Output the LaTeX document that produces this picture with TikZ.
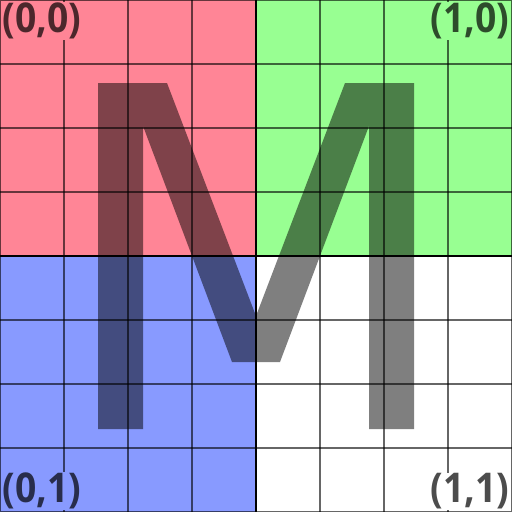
\documentclass[tikz,border=0pt]{standalone}
\usepackage{fontspec}
\setmainfont{Open Sans}
\newfontfamily\lblfont{Open Sans}[FakeStretch=0.91]
\definecolor{qpink}{RGB}{255,133,150}
\definecolor{qgreen}{RGB}{152,255,146}
\definecolor{qblue}{RGB}{136,154,255}
\tikzset{
  gridline/.style={draw=black,draw opacity=0.6,line width=1.3pt},
  axisline/.style={draw=black,line width=2.6pt},
  quadlabel/.style={inner sep=1pt,font=\fontsize{41}{43}\lblfont\bfseries,text=black,text opacity=0.7},
  glyph/.style={fill=black,fill opacity=0.5}
}
\begin{document}
\begin{tikzpicture}[x=1pt,y=-1pt]
\useasboundingbox (0,0) rectangle (512,512);
% quadrants
\fill[qpink] (0,0) rectangle (256,256);
\fill[qgreen] (256,0) rectangle (512,256);
\fill[qblue] (0,256) rectangle (256,512);
\fill[white] (256,256) rectangle (512,512);
% grid
\foreach \k in {64,128,192,320,384,448} {
  \draw[gridline] (\k,0) -- (\k,512);
  \draw[gridline] (0,\k) -- (512,\k);
}
\draw[gridline] (0.6,0.6) rectangle (511.4,511.4);
% M glyph
\fill[glyph] (98,83) -- (167,83) -- (256,316) -- (345,83) -- (414,83) -- (414,429)
  -- (369,429) -- (369,126) -- (280,362) -- (232,362) -- (143,126) -- (143,429)
  -- (98,429) -- cycle;
% axes
\draw[axisline] (256,0) -- (256,512);
\draw[axisline] (0,256) -- (512,256);
% labels
\node[quadlabel,fill=qpink,anchor=north west] (l00) at (1.5,1.5) {(0,0)};
\node[quadlabel,fill=qgreen,anchor=north east] (l10) at (510.5,1.5) {(1,0)};
\node[quadlabel,fill=qblue,anchor=south west] (l01) at (1.5,510.5) {(0,1)};
\node[quadlabel,fill=white,anchor=south east] (l11) at (510.5,510.5) {(1,1)};
\end{tikzpicture}
\end{document}
